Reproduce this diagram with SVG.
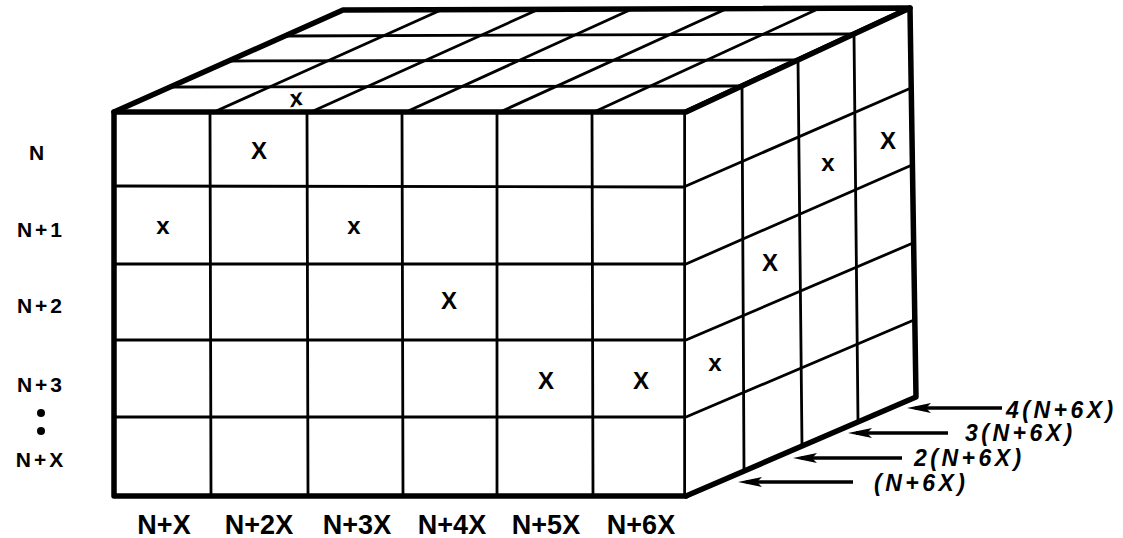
<svg xmlns="http://www.w3.org/2000/svg" width="1123" height="538" viewBox="0 0 1123 538">
<style>
.bg{fill:#fff}
.edge{fill:none;stroke:#000;stroke-width:5.5;stroke-linejoin:round;stroke-linecap:round}
.grid{fill:none;stroke:#000;stroke-width:2.8;stroke-linecap:round}
.mark{font-family:"Liberation Sans",Arial,sans-serif;font-weight:bold;font-size:24px;text-anchor:middle;fill:#000}
.row{font-family:"Liberation Sans",Arial,sans-serif;font-weight:bold;font-size:21px;text-anchor:middle;letter-spacing:3px;fill:#000}
.col{font-family:"Liberation Sans",Arial,sans-serif;font-weight:bold;font-size:27px;text-anchor:middle;fill:#000}
.layer{font-family:"Liberation Sans",Arial,sans-serif;font-weight:bold;font-style:italic;font-size:23px;letter-spacing:3.5px;fill:#000}
.arr{fill:none;stroke:#000;stroke-width:3.4}
</style>
<defs>
<marker id="ah" markerUnits="userSpaceOnUse" markerWidth="26" markerHeight="14" refX="16" refY="7" orient="auto">
<path d="M0,2 L24,7 L0,12 L5,7 Z" fill="#000"/>
</marker>
</defs>
<rect class="bg" x="0" y="0" width="1123" height="538"/>

<g id="top-face">
<polygon points="114,112 343,10 910,8 686,112" fill="#fff" stroke="none"/>
<line class="grid" x1="171" y1="87" x2="742" y2="86"/>
<line class="grid" x1="228" y1="61" x2="798" y2="60"/>
<line class="grid" x1="286" y1="36" x2="854" y2="34"/>
<line class="grid" x1="214" y1="112" x2="441" y2="10"/>
<line class="grid" x1="311" y1="112" x2="537" y2="10"/>
<line class="grid" x1="406" y1="112" x2="632" y2="9"/>
<line class="grid" x1="500" y1="112" x2="726" y2="9"/>
<line class="grid" x1="594" y1="112" x2="820" y2="8"/>
<polyline class="edge" points="114,112 343,10 910,8 686,112"/>
<text class="mark" x="296" y="106" font-style="italic" transform="rotate(-12 296 98)">x</text>
</g>

<g id="front-face">
<rect x="114" y="112" width="572" height="384" fill="#fff"/>
<line class="grid" x1="210" y1="112" x2="211" y2="496"/>
<line class="grid" x1="307" y1="112" x2="308" y2="496"/>
<line class="grid" x1="402" y1="112" x2="403" y2="496"/>
<line class="grid" x1="497" y1="112" x2="497" y2="496"/>
<line class="grid" x1="592" y1="112" x2="593" y2="496"/>
<line class="grid" x1="114" y1="186" x2="686" y2="187"/>
<line class="grid" x1="114" y1="264" x2="686" y2="264"/>
<line class="grid" x1="114" y1="340" x2="686" y2="340"/>
<line class="grid" x1="114" y1="417" x2="686" y2="417"/>
<rect class="edge" x="114" y="112" width="572" height="384"/>
<text class="mark" x="259" y="159">X</text>
<text class="mark" x="163" y="234">x</text>
<text class="mark" x="354" y="234">x</text>
<text class="mark" x="449" y="309">X</text>
<text class="mark" x="546" y="389">X</text>
<text class="mark" x="641" y="389">X</text>
</g>

<g id="right-face">
<polygon points="686,112 910,8 916,397 686,496" fill="#fff"/>
<line class="grid" x1="742" y1="86" x2="744" y2="470"/>
<line class="grid" x1="798" y1="60" x2="802" y2="446"/>
<line class="grid" x1="854" y1="34" x2="858" y2="421"/>
<line class="grid" x1="686" y1="186" x2="911" y2="88"/>
<line class="grid" x1="686" y1="264" x2="912" y2="165"/>
<line class="grid" x1="686" y1="340" x2="913" y2="243"/>
<line class="grid" x1="686" y1="417" x2="914" y2="320"/>
<polyline class="edge" points="686,112 910,8 916,397 686,496"/>
<text class="mark" x="828" y="171">x</text>
<text class="mark" x="888" y="149">X</text>
<text class="mark" x="770" y="271">X</text>
<text class="mark" x="715" y="371">x</text>
</g>

<g id="row-labels">
<text class="row" x="38" y="160" letter-spacing="0">N</text>
<text class="row" x="41" y="237">N+1</text>
<text class="row" x="41" y="313">N+2</text>
<text class="row" x="41" y="392">N+3</text>
<circle cx="41" cy="413" r="4" fill="#000"/>
<circle cx="41" cy="431" r="4" fill="#000"/>
<text class="row" x="41" y="467">N+X</text>
</g>

<g id="column-labels">
<text class="col" x="164" y="534">N+X</text>
<text class="col" x="259" y="534">N+2X</text>
<text class="col" x="357" y="534">N+3X</text>
<text class="col" x="452" y="534">N+4X</text>
<text class="col" x="546" y="534">N+5X</text>
<text class="col" x="641" y="534">N+6X</text>
</g>

<g id="layer-labels">
<text class="layer" x="1006" y="418">4(N+6X)</text>
<text class="layer" x="965" y="441">3(N+6X)</text>
<text class="layer" x="914" y="466">2(N+6X)</text>
<text class="layer" x="874" y="491">(N+6X)</text>
</g>

<g id="connectors">
<line class="arr" x1="1002" y1="408" x2="915" y2="408" marker-end="url(#ah)"/>
<line class="arr" x1="948" y1="433" x2="856" y2="433" marker-end="url(#ah)"/>
<line class="arr" x1="902" y1="458" x2="801" y2="458" marker-end="url(#ah)"/>
<line class="arr" x1="853" y1="482" x2="746" y2="482" marker-end="url(#ah)"/>
</g>
</svg>
